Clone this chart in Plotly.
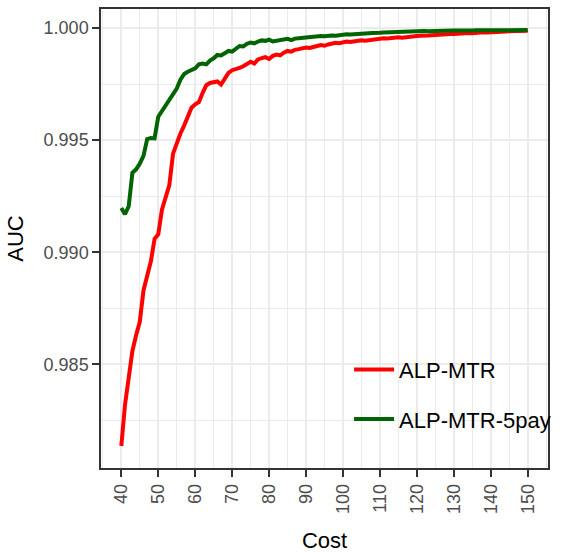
import plotly.graph_objects as go

# Cost values (integer steps)
cost = list(range(40, 151))

# AUC for ALP-MTR
auc_alp_mtr = [
    0.98136, 0.98320, 0.98440, 0.98560, 0.98630, 0.98690, 0.98830, 0.98888, 0.98960, 0.99060,
    0.99080, 0.99190, 0.99240, 0.99300, 0.99440, 0.99490, 0.99530, 0.99565, 0.99610, 0.99645,
    0.99660, 0.99670, 0.99710, 0.99745, 0.99755, 0.99760, 0.99762, 0.99748, 0.99775, 0.99800,
    0.99812, 0.99815, 0.99822, 0.99830, 0.99838, 0.99850, 0.99842, 0.99860, 0.99866, 0.99870,
    0.99862, 0.99876, 0.99882, 0.99878, 0.99890, 0.99898, 0.99895, 0.99903, 0.99906, 0.99910,
    0.99913, 0.99911, 0.99917, 0.99920, 0.99924, 0.99921, 0.99927, 0.99930, 0.99934, 0.99932,
    0.99938, 0.99940, 0.99938, 0.99942, 0.99944, 0.99946, 0.99944, 0.99947, 0.99950, 0.99951,
    0.99953, 0.99955, 0.99953, 0.99956, 0.99958, 0.99959, 0.99957, 0.99960, 0.99962, 0.99963,
    0.99965, 0.99966, 0.99965, 0.99967, 0.99968, 0.99970, 0.99969, 0.99971, 0.99972, 0.99974,
    0.99973, 0.99975, 0.99976, 0.99977, 0.99978, 0.99977, 0.99979, 0.99980, 0.99981, 0.99980,
    0.99982, 0.99983, 0.99983, 0.99984, 0.99985, 0.99985, 0.99986, 0.99986, 0.99987, 0.99987,
    0.99988,
]

# AUC for ALP-MTR-5pay
auc_alp_mtr_5pay = [
    0.99198, 0.99170, 0.99205, 0.99355, 0.99370, 0.99395, 0.99430, 0.99505, 0.99510, 0.99508,
    0.99605, 0.99630, 0.99656, 0.99680, 0.99705, 0.99730, 0.99770, 0.99795, 0.99805, 0.99815,
    0.99820, 0.99838, 0.99842, 0.99838, 0.99855, 0.99865, 0.99880, 0.99878, 0.99888, 0.99898,
    0.99895, 0.99910, 0.99920, 0.99918, 0.99930, 0.99935, 0.99932, 0.99940, 0.99945, 0.99943,
    0.99948, 0.99940, 0.99942, 0.99945, 0.99950, 0.99952, 0.99946, 0.99953, 0.99955, 0.99957,
    0.99958, 0.99960, 0.99959, 0.99962, 0.99964, 0.99963, 0.99966, 0.99967, 0.99966, 0.99969,
    0.99970, 0.99972, 0.99971, 0.99973, 0.99975, 0.99974, 0.99976, 0.99977, 0.99978, 0.99977,
    0.99979, 0.99980, 0.99981, 0.99980, 0.99982, 0.99983, 0.99983, 0.99984, 0.99985, 0.99984,
    0.99986, 0.99986, 0.99987, 0.99986, 0.99987, 0.99988, 0.99987, 0.99988, 0.99989, 0.99988,
    0.99989, 0.99989, 0.99988, 0.99989, 0.99990, 0.99989, 0.99990, 0.99990, 0.99989, 0.99990,
    0.99990, 0.99991, 0.99990, 0.99990, 0.99991, 0.99990, 0.99991, 0.99991, 0.99990, 0.99991,
    0.99991,
]

x_ticks = list(range(40, 151, 10))
y_ticks = [0.985, 0.990, 0.995, 1.000]

FONT = "Liberation Sans, Arial, sans-serif"
GRID = "#EBEBEB"
DARK = "#333333"

fig = go.Figure()
fig.add_trace(go.Scatter(
    x=cost, y=auc_alp_mtr, mode="lines", name="ALP-MTR",
    line=dict(color="#FF0000", width=4), legendgroup="a",
))
fig.add_trace(go.Scatter(
    x=cost, y=auc_alp_mtr_5pay, mode="lines", name="ALP-MTR-5pay",
    line=dict(color="#006400", width=4), legendgroup="b",
))

fig.update_layout(
    width=565, height=556,
    margin=dict(l=101, r=17, t=7, b=88),
    paper_bgcolor="white", plot_bgcolor="white",
    font=dict(family=FONT, size=18, color="#4D4D4D"),
    legend=dict(
        x=0.555, y=0.26, xanchor="left", yanchor="top",
        bgcolor="rgba(0,0,0,0)", font=dict(size=22, color="black"),
        tracegroupgap=18, itemwidth=40,
    ),
    xaxis=dict(
        range=[34.5, 155.5], tickvals=x_ticks, tickangle=-90,
        title=dict(text="Cost", font=dict(size=22, color="black"), standoff=20),
        showgrid=True, gridcolor=GRID, gridwidth=1.8,
        minor=dict(dtick=5, tick0=0, showgrid=True, gridcolor=GRID, gridwidth=1),
        ticks="outside", ticklen=7, tickwidth=2, tickcolor=DARK,
        showline=True, mirror=True, linecolor=DARK, linewidth=1.5,
        zeroline=False,
    ),
    yaxis=dict(
        range=[0.98038, 1.00085], tickvals=y_ticks, tickformat=".3f",
        title=dict(text="AUC", font=dict(size=22, color="black"), standoff=14),
        showgrid=True, gridcolor=GRID, gridwidth=1.8,
        minor=dict(dtick=0.0025, tick0=0.98, showgrid=True, gridcolor=GRID, gridwidth=1),
        ticks="outside", ticklen=7, tickwidth=2, tickcolor=DARK,
        showline=True, mirror=True, linecolor=DARK, linewidth=1.5,
        zeroline=False,
    ),
)

fig.write_html("out.html")
